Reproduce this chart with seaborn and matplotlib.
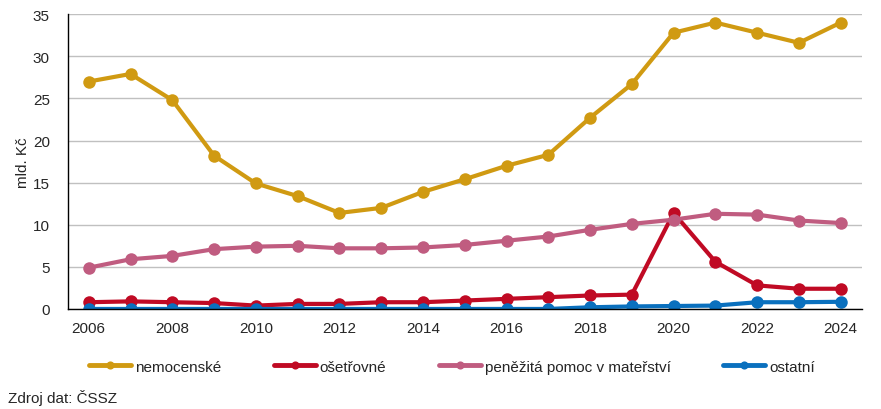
import pandas as pd
import seaborn as sns
import matplotlib.pyplot as plt
from matplotlib.ticker import FixedLocator

years = list(range(2006, 2025))
nemocenske = [27.0, 27.9, 24.8, 18.2, 14.9, 13.4, 11.4, 12.0, 13.9, 15.4,
              17.0, 18.3, 22.7, 26.7, 32.8, 34.0, 32.8, 31.6, 34.0]
osetrovne = [0.8, 0.9, 0.8, 0.7, 0.4, 0.6, 0.6, 0.8, 0.8, 1.0,
             1.2, 1.4, 1.6, 1.7, 11.4, 5.6, 2.8, 2.4, 2.4]
materstvi = [4.9, 5.9, 6.3, 7.1, 7.4, 7.5, 7.2, 7.2, 7.3, 7.6,
             8.1, 8.6, 9.4, 10.1, 10.6, 11.3, 11.2, 10.5, 10.2]
ostatni = [0.0, 0.0, 0.0, 0.0, 0.0, 0.0, 0.0, 0.0, 0.0, 0.0,
           0.0, 0.0, 0.2, 0.3, 0.35, 0.4, 0.8, 0.8, 0.85]

series = {
    'nemocenské': nemocenske,
    'ošetřovné': osetrovne,
    'peněžitá pomoc v mateřství': materstvi,
    'ostatní': ostatni,
}
colors = ['#D09A12', '#C00A24', '#C05C80', '#0A70BE']

rows = []
for name, vals in series.items():
    for i, (y, v) in enumerate(zip(years, vals)):
        rows.append({'pos': i, 'rok': y, 'davka': name, 'hodnota': v})
df = pd.DataFrame(rows)

sns.set_style('white')
plt.rcParams['font.family'] = ['Liberation Sans', 'DejaVu Sans']

fig = plt.figure(figsize=(8.81, 4.10), dpi=100)
ax = fig.add_axes([0.077, 0.244, 0.901, 0.719])

sns.lineplot(data=df, x='pos', y='hodnota', hue='davka', palette=colors,
             marker='o', markersize=9, markeredgewidth=0, linewidth=3.0,
             ax=ax, legend=True)

ax.set_xlim(-0.5, len(years) - 0.5)
ax.set_ylim(0, 35)
ax.set_yticks(range(0, 36, 5))
ax.set_xticks(range(0, len(years), 2))
ax.set_xticklabels([str(y) for y in years[::2]])
ax.xaxis.set_minor_locator(FixedLocator([i - 0.5 for i in range(len(years) + 1)]))
ax.tick_params(axis='x', which='major', length=0, labelsize=11, pad=9)
ax.tick_params(axis='x', which='minor', length=5, width=1, color='black', direction='out')
ax.tick_params(axis='y', length=5, width=1, color='black', direction='out',
               labelsize=11, pad=8)
ax.yaxis.grid(True, color='#C0C0C0', linewidth=1)
ax.set_axisbelow(True)
for s in ['top', 'right']:
    ax.spines[s].set_visible(False)
for s in ['left', 'bottom']:
    ax.spines[s].set_color('black')
    ax.spines[s].set_linewidth(1)
ax.set_xlabel('')
ax.set_ylabel('mld. Kč', fontsize=11, labelpad=2)

handles, labels = ax.get_legend_handles_labels()
for h in handles:
    h.set_linewidth(3.5)
ax.legend(handles, labels, loc='upper center', bbox_to_anchor=(0.484, -0.125),
          ncol=4, frameon=False, fontsize=11, handlelength=2.75,
          handletextpad=0.25, columnspacing=3.45, markerscale=0.65)

fig.text(0.009, 0.018, 'Zdroj dat: ČSSZ', fontsize=11)

plt.savefig('out.png', dpi=100)
